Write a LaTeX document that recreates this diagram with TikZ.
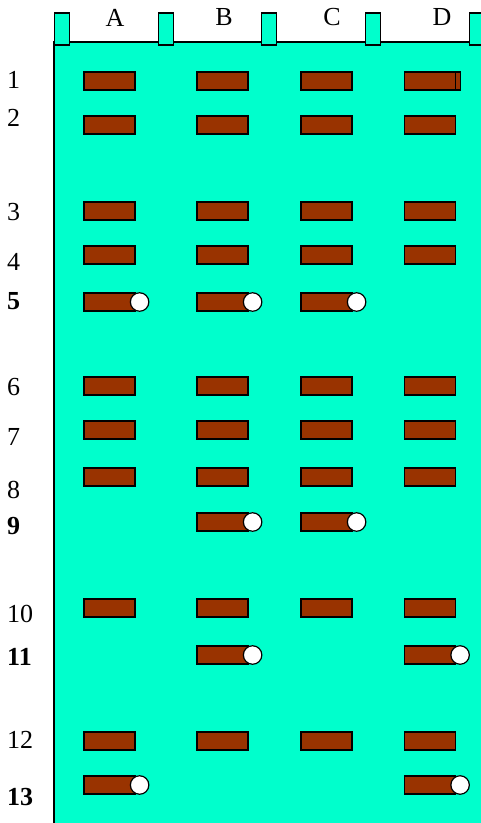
\documentclass[tikz,border=0pt]{standalone}
\usepackage{fontspec}
\setmainfont{Liberation Serif}
\usetikzlibrary{positioning}
\definecolor{gel}{RGB}{0,255,204}
\definecolor{brick}{RGB}{153,51,0}

\begin{document}
\begin{tikzpicture}[x=1pt,y=-1pt,
    band/.style={draw,fill=brick,line width=1.2pt,minimum width=51pt,minimum height=18pt,inner sep=0pt},
    hole/.style={circle,draw,fill=white,line width=1.2pt,minimum size=18.5pt,inner sep=0pt},
    well/.style={draw,fill=gel,line width=1.2pt,minimum width=15pt,minimum height=32pt,inner sep=0pt},
    tag/.style={font=\fontsize{26}{26}\selectfont,inner sep=0pt}]
                    \useasboundingbox (0,0) rectangle (481,823);
                    % gel and wells
                    \fill[gel] (54,42) rectangle (481,823);
                    \draw[line width=1.2pt] (54,823) -- (54,42) -- (481,42);
                    \foreach \i/\x in {1/62,2/166,3/269,4/373,5/477}{
                        \node[well] (well-\i) at (\x,29) {};
                    }
                    \foreach \l/\x in {A/115,B/224,C/332,D/442}{
                        \node[tag] (lane-\l) at (\x,17.5) {\l};
                    }
                    \foreach \l/\x in {A/109.5,B/222.5,C/326.5,D/430}{
                        \coordinate (col-\l) at (\x,0);
                    }
                    % row labels
                    \foreach \r/\y/\ty/\f in {1/81/80/\mdseries,2/125/118/\mdseries,3/211/212/\mdseries,
                        4/255/262/\mdseries,5/302/301/\bfseries,6/386/387/\mdseries,7/430/437/\mdseries,
                        8/477/490/\mdseries,9/522/526/\bfseries,10/608/614/\mdseries,11/655/657/\bfseries,
                        12/741/740/\mdseries,13/785/797/\bfseries}{
                        \coordinate (row-\r) at (0,\y);
                        \node[tag,anchor=west,font=\fontsize{26}{26}\selectfont\f] (num-\r) at (7,\ty) {\r};
                    }
                    % bands
                    \node[band] (band-1-Dx) at ([xshift=5pt]col-D |- row-1) {};
                    \foreach \r/\set in {1/{A,B,C,D},2/{A,B,C,D},3/{A,B,C,D},4/{A,B,C,D},5/{A,B,C},
                        6/{A,B,C,D},7/{A,B,C,D},8/{A,B,C,D},9/{B,C},10/{A,B,C,D},11/{B,D},
                        12/{A,B,C,D},13/{A,D}}{
                        \foreach \l in \set{
                            \node[band] (band-\r-\l) at (col-\l |- row-\r) {};
                        }
                    }
                    \foreach \r/\set in {5/{A,B,C},9/{B,C},11/{B,D},13/{A,D}}{
                        \foreach \l in \set{
                            \node[hole] (hole-\r-\l) at ([xshift=4pt]band-\r-\l.east) {};
                        }
                    }
                \end{tikzpicture}
\end{document}
